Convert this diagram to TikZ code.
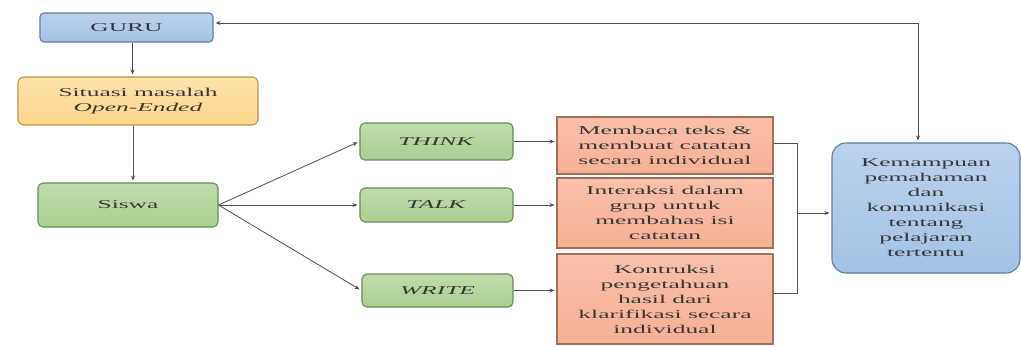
\documentclass[tikz,border=0pt]{standalone}
\usepackage{fontspec}
\setmainfont[FakeStretch=2.12]{Liberation Serif}
\usetikzlibrary{calc,arrows.meta}
\definecolor{lineC}{RGB}{80,80,80}
\definecolor{txtC}{RGB}{55,55,55}
\definecolor{blueF}{RGB}{164,194,230}
\definecolor{blueD}{RGB}{95,125,160}
\definecolor{yelF}{RGB}{253,214,138}
\definecolor{yelD}{RGB}{190,150,75}
\definecolor{grnF}{RGB}{170,208,144}
\definecolor{grnD}{RGB}{105,140,90}
\definecolor{orF}{RGB}{247,176,148}
\definecolor{orD}{RGB}{160,112,92}
\tikzset{
  box/.style={draw, line width=1.1pt, inner sep=0pt, align=center, text=txtC,
    font=\fontsize{12}{15}\selectfont},
  bluebox/.style={box, draw=blueD, top color=blueF!75!white, bottom color=blueF},
  yelbox/.style={box, draw=yelD, top color=yelF!70!white, bottom color=yelF, rounded corners=6pt},
  grnbox/.style={box, draw=grnD, top color=grnF!75!white, bottom color=grnF, rounded corners=5pt},
  orbox/.style={box, draw=orD, top color=orF!80!white, bottom color=orF},
  arr/.style={draw=lineC, line width=0.8pt, -{Stealth[length=5pt,width=4pt]}, shorten >=2pt},
  ln/.style={draw=lineC, line width=0.8pt}
}
\begin{document}
\begin{tikzpicture}[x=1pt,y=-1pt]
\useasboundingbox (0,0) rectangle (1021,346);
\fill[white] (0,0) rectangle (1021,346);

\node[bluebox, rounded corners=4pt, minimum width=173pt, minimum height=29pt] (guru) at (126.5,27.5) {GURU};
\node[yelbox, minimum width=240pt, minimum height=48pt] (sit) at (138,101) {Situasi masalah\\\textit{Open-Ended}};
\node[grnbox, minimum width=180pt, minimum height=44pt] (siswa) at (128,205) {Siswa};

\node[grnbox, minimum width=153pt, minimum height=37pt] (think) at (436.5,141.5) {\textit{THINK}};
\node[grnbox, minimum width=153pt, minimum height=34pt] (talk) at (436.5,205) {\textit{TALK}};
\node[grnbox, minimum width=151pt, minimum height=33pt] (write) at (437.5,290.5) {\textit{WRITE}};

\node[orbox, minimum width=216pt, minimum height=57pt] (b1) at (665,145.5) {Membaca teks \&\\membuat catatan\\secara individual};
\node[orbox, minimum width=216pt, minimum height=70pt] (b2) at (665,213) {Interaksi dalam\\grup untuk\\membahas isi\\catatan};
\node[orbox, minimum width=216pt, minimum height=90pt] (b3) at (665,299) {Kontruksi\\pengetahuan\\hasil dari\\klarifikasi secara\\individual};

\node[bluebox, rounded corners=14pt, minimum width=188pt, minimum height=130pt] (res) at (926,208) {Kemampuan\\pemahaman\\dan\\komunikasi\\tentang\\pelajaran\\tertentu};

\coordinate (g1) at ($(guru.south)+(6,0)$);
\coordinate (s1) at ($(sit.south)+(-5,0)$);
\coordinate (bt) at (797,143);
\coordinate (bb) at (797,293);
\coordinate (bm) at (797,213);
\coordinate (fc) at (918,23);

\draw[arr] (g1) -- (g1 |- sit.north);
\draw[arr] (s1) -- (s1 |- siswa.north);

\draw[arr] (siswa.east) -- (think.west);
\draw[arr] (siswa.east) -- (talk.west);
\draw[arr] (siswa.east) -- (write.west);

\draw[arr] (think.east) -- (think.east -| b1.west);
\draw[arr] (talk.east) -- (talk.east -| b2.west);
\draw[arr] (write.east) -- (write.east -| b3.west);

\draw[ln] (b1.east |- bt) -- (bt) -- (bb) -- (b3.east |- bb);
\draw[arr] (bm) -- (bm -| res.west);

\draw[ln, {Stealth[length=5pt,width=4pt]}-{Stealth[length=5pt,width=4pt]}, shorten <=2pt, shorten >=2pt] (guru.east |- fc) -- (fc) -- (fc |- res.north);
\end{tikzpicture}
\end{document}
